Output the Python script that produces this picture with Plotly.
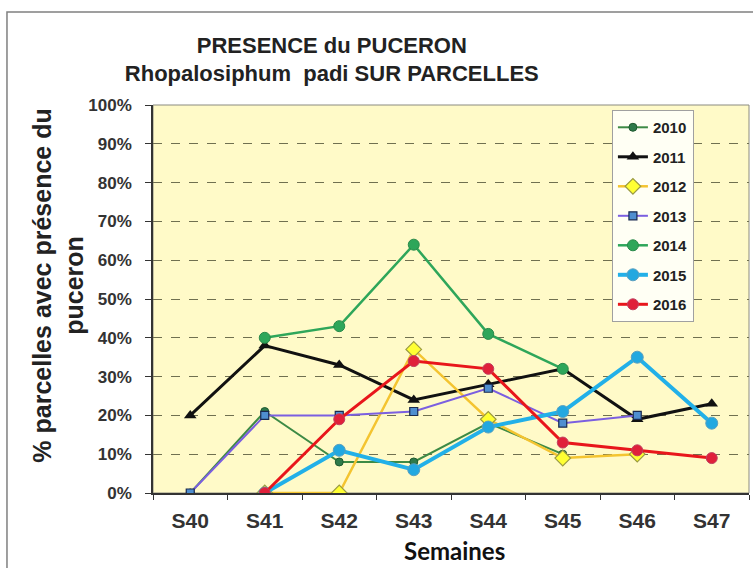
import plotly.graph_objects as go

weeks = ["S40", "S41", "S42", "S43", "S44", "S45", "S46", "S47"]
y2010 = [0, 21, 8, 8, 18, 10, None, None]
y2011 = [20, 38, 33, 24, 28, 32, 19, 23]
y2012 = [None, 0, 0, 37, 19, 9, 10, None]
y2013 = [0, 20, 20, 21, 27, 18, 20, None]
y2014 = [None, 40, 43, 64, 41, 32, None, None]
y2015 = [None, 0, 11, 6, 17, 21, 35, 18]
y2016 = [None, 0, 19, 34, 32, 13, 11, 9]
ytick_vals = [0, 10, 20, 30, 40, 50, 60, 70, 80, 90, 100]
ytick_text = ["0%", "10%", "20%", "30%", "40%", "50%", "60%", "70%", "80%", "90%", "100%"]

series = [
    ("2010", y2010, dict(color="#3d8a45", width=2), dict(symbol="circle", size=8, color="#2f7a4a", line=dict(color="#1f5a30", width=1))),
    ("2011", y2011, dict(color="#111111", width=3), dict(symbol="triangle-up", size=11, color="#111111")),
    ("2012", y2012, dict(color="#f4c430", width=2.5), dict(symbol="diamond", size=12, color="#ffff33", line=dict(color="#9a9a40", width=1.2))),
    ("2013", y2013, dict(color="#7b5fe0", width=2), dict(symbol="square", size=8, color="#4f8ed0", line=dict(color="#1a2a50", width=1.2))),
    ("2014", y2014, dict(color="#2ea65a", width=2.5), dict(symbol="circle", size=11, color="#2ea65a", line=dict(color="#2a8a4a", width=1))),
    ("2015", y2015, dict(color="#22b0e8", width=4), dict(symbol="circle", size=12, color="#22a8e0", line=dict(color="#5aa0c0", width=1))),
    ("2016", y2016, dict(color="#e8161b", width=3), dict(symbol="circle", size=11, color="#e0203a", line=dict(color="#c04060", width=1))),
]

ARIAL = "Liberation Sans, Arial, sans-serif"

fig = go.Figure()
for i, (name, ys, line, marker) in enumerate(series):
    fig.add_trace(go.Scatter(
        x=weeks, y=ys, name=name, mode="lines+markers",
        line=line, marker=marker, connectgaps=False,
        legendgroup="g%d" % i,
    ))

fig.update_layout(
    width=753, height=568,
    margin=dict(l=153, r=4, t=105, b=75),
    paper_bgcolor="white",
    plot_bgcolor="#fffac8",
    font=dict(family=ARIAL, color="#222222"),
    title=dict(
        text="<b>PRESENCE du PUCERON<br>Rhopalosiphum  padi SUR PARCELLES</b>",
        x=0.30, xref="paper", xanchor="center",
        y=0.907, yref="container", yanchor="middle",
        font=dict(size=22, color="#222222", family=ARIAL),
    ),
    legend=dict(
        x=0.770, y=0.987, xanchor="left", yanchor="top",
        bgcolor="#fffff4", bordercolor="#a0a0a0", borderwidth=1,
        font=dict(size=15, color="#222222", family=ARIAL, weight="bold"),
        tracegroupgap=7,
    ),
    showlegend=True,
)

fig.update_xaxes(
    type="category", range=[-0.5, 7.5],
    tickson="boundaries", ticks="outside", ticklen=5, tickcolor="#333333",
    showline=True, linecolor="#333333", linewidth=1.5,
    showgrid=False, zeroline=False,
    tickfont=dict(size=21, color="#333333", family=ARIAL, weight="bold"),
    ticklabelstandoff=8,
)
fig.update_yaxes(
    range=[0, 100], tickvals=ytick_vals, ticktext=ytick_text,
    ticks="outside", ticklen=6, tickcolor="#333333",
    showline=True, linecolor="#333333", linewidth=1.5,
    showgrid=True, gridcolor="#707050", griddash="dash", gridwidth=1,
    zeroline=False,
    tickfont=dict(size=17, color="#333333", family=ARIAL, weight="bold"),
    ticklabelstandoff=10,
)

# plot area outline (light) and outer chart border
fig.add_shape(type="rect", xref="paper", yref="paper", x0=0, y0=0, x1=1, y1=1,
              line=dict(color="#8a8a80", width=1), layer="below")
fig.add_shape(type="rect", xref="paper", yref="paper", x0=-0.245, y0=-0.3, x1=1.02, y1=1.2397,
              line=dict(color="#808080", width=1.5))

fig.add_annotation(
    text="<b>% parcelles avec présence du<br>puceron</b>",
    xref="paper", yref="paper", x=-0.159, y=0.535, textangle=-90,
    showarrow=False, xanchor="center", yanchor="middle",
    font=dict(size=25, color="#222222", family=ARIAL),
)
fig.add_annotation(
    text="<b>Semaines</b>",
    xref="paper", yref="paper", x=0.506, y=-0.149,
    showarrow=False, xanchor="center", yanchor="middle",
    font=dict(size=24, color="#111111", family="Lato, Open Sans, sans-serif"),
)

fig.write_html("out.html", config={"displayModeBar": False},
               post_script="document.body.style.margin='0';")
